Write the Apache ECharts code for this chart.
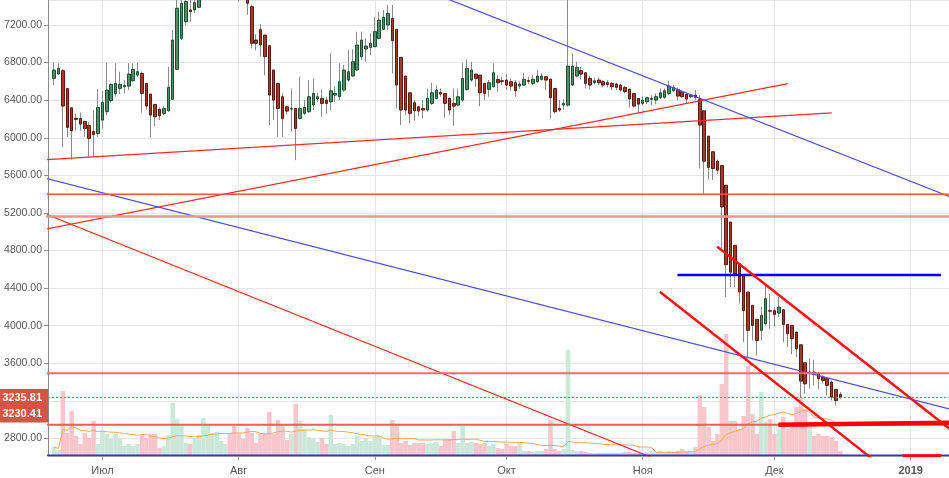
<!DOCTYPE html>
<html><head><meta charset="utf-8">
<script src="https://cdn.jsdelivr.net/npm/echarts@6/dist/echarts.min.js"></script>
<style>html,body{margin:0;padding:0;background:#fff}#c{width:949px;height:478px}</style>
</head><body><div id="c"></div>
<script>
// ---- data (daily candles from 2018-06-20) ----
const firstDay = '2018-06-20';
const open = [6632,6678,6714,6525,6319,6206,6206,6174,6131,6067, 6046,6188,6277,6394,6472,6525,6543,6550,6607,6667, 6685,6579,6465,6355,6302,6259,6287,6408,6728,7058, 7236,7360,7360,7388,7500,7800,8150,8200,8250,8260, 8280,8170,7730,7600,7530,7395,7040,7150,7093,6980, 6721,6579,6437,6330,6305,6312,6206,6259,6277,6348, 6412,6419,6401,6383,6454,6437,6508,6614,6657,6721, 6863,6944,6959,6969,7058,7154,7200,7271,7154,6856, 6657,6479,6373,6330,6312,6295,6366,6419,6483,6472, 6419,6366,6348,6401,6515,6614,6678,6667,6579,6515, 6543,6621,6607,6614,6596,6586,6550,6561,6610,6579, 6596,6621,6650,6625,6525,6312,6348,6348,6561,6657, 6714,6692,6632,6586,6614,6596,6586,6579,6572,6561, 6536,6518,6472,6419,6366,6383,6408,6401,6426,6430, 6472,6500,6515,6490,6462,6437,6454,6408,6287,6017, 5851,5751,5705,5495,5104,4856,4661,4536,4359,4217, 4068,3951,4022,4160,4163,4135,4171,4014,4004,3933, 3798,3606,3496,3507,3496,3454,3436,3400,3322,3269];
const close = [6721,6738,6337,6110,6074,6195,6145,6099,5993,6035, 6323,6376,6508,6568,6579,6568,6557,6678,6728,6703, 6472,6337,6241,6224,6234,6312,6536,7040,7378,7431, 7449,7342,7438,7500,7800,8150,8200,8250,8260,8280, 8170,7730,7600,7530,7431,7005,7005,6987,6863,6454, 6401,6312,6206,6284,6312,6099,6312,6323,6437,6472, 6437,6366,6366,6500,6472,6596,6721,6703,6809,6987, 7040,6976,7005,7129,7253,7282,7324,7033,6561,6295, 6295,6259,6287,6284,6295,6419,6479,6508,6465,6366, 6295,6337,6437,6632,6738,6721,6632,6479,6472,6586, 6692,6586,6600,6561,6550,6500,6571,6621,6600,6621, 6657,6657,6614,6426,6277,6295,6366,6763,6763,6749, 6678,6579,6561,6607,6586,6561,6568,6543,6536,6508, 6490,6412,6337,6358,6401,6426,6419,6437,6479,6500, 6550,6536,6444,6437,6412,6454,6430,6135,5751,5684, 5673,5655,5264,4650,4570,4537,4359,4163,3951,4004, 3844,4110,4288,4155,4121,4199,4014,3915,3862,3755, 3411,3382,3507,3482,3436,3418,3365,3240,3205,3235.81];
const high = [6802,6792,6731,6525,6319,6259,6270,6181,6167,6295, 6515,6500,6799,6579,6792,6703,6614,6792,6792,6799, 6703,6579,6465,6355,6323,6337,6756,7147,7480,7500, 7480,7466,7480,7560,7900,8480,8300,8300,8290,8350, 8300,8170,7760,7720,7550,7420,7100,7210,7093,6980, 6721,6579,6472,6340,6525,6320,6650,6401,6614,6625, 6480,6515,6437,6898,6550,6792,6774,6934,6941,7129, 7129,7058,7111,7282,7342,7360,7413,7413,7154,6856, 6657,6479,6401,6330,6401,6525,6586,6561,6525,6472, 6430,6525,6525,6792,6834,6809,6678,6667,6579,6614, 6792,6667,6650,6678,6632,6614,6600,6692,6650,6667, 6721,6685,6650,6625,6525,6401,6410,7700,6898,6809, 6756,6692,6657,6640,6642,6614,6614,6596,6586,6572, 6550,6518,6472,6419,6437,6437,6454,6472,6525,6525, 6607,6561,6536,6500,6472,6470,6508,6454,6287,6017, 5851,5769,5705,5495,5104,4856,4661,4536,4359,4217, 4068,4199,4448,4341,4199,4306,4171,4014,4004,3933, 3798,3606,3649,3638,3507,3471,3436,3418,3329,3294];
const low = [6561,6667,5897,6010,5769,6074,6074,6010,5797,5804, 6010,6099,6241,6376,6437,6465,6472,6508,6596,6642, 6266,6300,6003,6124,6188,6241,6277,6401,6721,7040, 7200,7235,7330,7380,7480,7750,7950,8100,8150,8100, 7870,7650,7450,7480,7307,6951,6930,6863,6667,6135, 6188,6010,6010,6250,6064,5762,6195,6241,6266,6295, 6380,6224,6259,6295,6380,6401,6490,6596,6650,6714, 6827,6809,6880,6962,7047,7147,7147,6685,6312,6135, 6241,6153,6181,6231,6206,6277,6348,6408,6437,6216, 6241,6127,6337,6383,6500,6596,6543,6337,6401,6437, 6536,6490,6560,6508,6501,6437,6520,6550,6570,6561, 6586,6607,6507,6206,6259,6277,6300,6330,6550,6643, 6621,6525,6515,6565,6561,6536,6536,6508,6508,6490, 6472,6323,6323,6259,6348,6358,6348,6358,6412,6416, 6454,6490,6401,6430,6366,6420,6401,5673,5406,5556, 5549,5613,4803,4306,4412,4412,4235,3826,3649,3844, 3684,3844,4004,3968,3986,4093,3826,3773,3695,3667, 3240,3276,3329,3365,3329,3382,3258,3205,3152,3223];
const volume = [9,6,65,23,45,20,12,23,18,35, 12,26,22,17,22,17,10,12,10,12, 20,18,22,22,8,10,21,53,37,30, 13,12,18,21,38,32,23,24,15,12, 22,30,23,17,28,23,13,23,22,44, 22,36,32,16,22,52,35,27,19,17, 14,18,12,41,12,13,12,10,12,20, 15,17,15,19,20,11,11,36,32,13, 15,11,13,13,13,12,13,14,10,17, 17,25,13,30,13,14,13,12,13,10, 12,8,7,12,10,10,13,5,5,4, 5,5,7,36,7,5,7,106,6,5, 5,4,3,3,3,3,3,3,3,3, 4,4,3,3,3,4,5,4,5,4, 5,4,5,7,5,5,9,61,49,29, 15,22,72,122,35,35,27,40,90,42, 22,64,34,37,22,27,39,27,29,49, 59,47,30,20,22,20,20,19,15,5];
const volumeMaPeriod = 20;
const lastPrice = 3235.81;
const secondPrice = 3230.41;
const monthNames = ['Янв','Фев','Мар','Апр','Май','Июн','Июл','Авг','Сен','Окт','Ноя','Дек'];
const yTickValues = [2800,3200,3600,4000,4400,4800,5200,5600,6000,6400,6800,7200];

// drawings: [date, price] endpoints
const redSupportA   = [['2018-06-18T00:00Z', 5767], ['2018-12-14T00:00Z', 6264]];
const redRiseB      = [['2018-06-18T00:00Z', 5028], ['2018-12-04T00:00Z', 6577]];
const blueUpperC    = [['2018-09-08T00:00Z', 7653], ['2019-01-16T00:00Z', 5261]];
const blueLowerD    = [['2018-06-18T00:00Z', 5570], ['2019-01-16T00:00Z', 3040]];
const redFallE      = [['2018-06-18T00:00Z', 5190], ['2018-11-11T00:00Z', 2449]];
const redLevelF     = [['2018-06-18T00:00Z', 5398], ['2019-01-16T00:00Z', 5398]];
const pinkLevelG    = [['2018-06-18T00:00Z', 5162], ['2019-01-16T00:00Z', 5162]];
const blueLevelH    = [['2018-11-08T21:36Z', 4540], ['2019-01-07T22:00Z', 4540]];
const redChannelTop = [['2018-11-17T23:00Z', 4841], ['2019-01-16T00:00Z', 2678]];
const redChannelBot = [['2018-11-04T21:36Z', 4362], ['2018-12-27T00:00Z', 2446]];
const redThickK     = [['2018-12-01T21:30Z', 2947], ['2019-01-16T00:00Z', 2972]];
const redLevelL     = [['2018-06-18T00:00Z', 3494], ['2019-01-16T00:00Z', 3494]];
const redLevelM     = [['2018-06-18T00:00Z', 2947], ['2019-01-16T00:00Z', 2947]];
const blueBottomN   = [['2018-06-18T00:00Z', 2621], ['2019-01-16T00:00Z', 2621]];
const redBottomSeg  = [['2018-12-30T05:00Z', 2617], ['2019-01-07T22:00Z', 2617]];

// ---- build ----
const DAY = 86400000;
const t0 = Date.parse(firstDay + 'T00:00:00Z');
const times = open.map((_, i) => t0 + i * DAY);
const xMin = Date.UTC(2018, 5, 19, 3);
const xMax = xMin + 204.09 * DAY;
const yMin = 2614, yMax = 7466;

const wickData = times.map((t, i) => [t, open[i], close[i], low[i], high[i]]);
const bodyData = times.map((t, i) => [t, open[i], close[i], Math.min(open[i], close[i]), Math.max(open[i], close[i])]);
const VOL_UP = '#cbe8d9', VOL_DOWN = '#f9c6cc';
const volData = times.map((t, i) => ({ value: [t, volume[i]], itemStyle: { color: close[i] >= open[i] ? VOL_UP : VOL_DOWN } }));
const maData = times.map((t, i) => {
  const s = Math.max(0, i - volumeMaPeriod + 1);
  let sum = 0; for (let k = s; k <= i; k++) sum += volume[k];
  return [t, sum / (i - s + 1)];
});

function seg(points, color, width, z) {
  return {
    type: 'line', data: points.map(p => [Date.parse(p[0]), p[1]]),
    symbol: 'none', silent: true, clip: true, animation: false, z: z || 5,
    lineStyle: { color: color, width: width }
  };
}
const FONT = 'Liberation Sans, Arial, sans-serif';
const tag = {
  show: true, position: 'start', distance: 0,
  color: '#fff', backgroundColor: '#d65446', fontFamily: FONT,
  fontSize: 11, fontWeight: 'bold', padding: [3, 6, 3, 4], lineHeight: 11
};

const chart = echarts.init(document.getElementById('c'));
chart.setOption({
  animation: false,
  useUTC: true,
  backgroundColor: '#fff',
  grid: { left: 48, right: 0, top: 0, bottom: 22, containLabel: false, outerBoundsMode: 'none' },
  xAxis: {
    type: 'time', min: xMin, max: xMax,
    minInterval: 28 * DAY, maxInterval: 31 * DAY, splitNumber: 7,
    axisLine: { show: true, lineStyle: { color: '#9a9a9a', width: 1 } },
    axisTick: { show: true, length: 4, lineStyle: { color: '#9a9a9a' } },
    minorTick: { show: false },
    splitLine: { show: true, lineStyle: { color: '#e6e6e6', width: 1 } },
    axisLabel: {
      show: true, margin: 9, color: '#555', fontSize: 11, fontFamily: FONT,
      showMinLabel: false, showMaxLabel: false, hideOverlap: false,
      formatter: function (v) {
        const d = new Date(v);
        const m = d.getUTCMonth();
        return m === 0 ? '{y|' + d.getUTCFullYear() + '}' : monthNames[m];
      },
      rich: { y: { fontWeight: 'bold', color: '#555', fontSize: 11, fontFamily: FONT } }
    }
  },
  yAxis: [{
    type: 'value', min: yMin, max: yMax, minInterval: 400, maxInterval: 400, splitNumber: 12,
    position: 'left', scale: true,
    axisLine: { show: true, lineStyle: { color: '#8a8a8a', width: 1 } },
    axisTick: { show: true, length: 4, lineStyle: { color: '#8a8a8a' } },
    splitLine: { show: true, lineStyle: { color: '#e6e6e6', width: 1 } },
    axisLabel: {
      show: true, margin: 6, color: '#555', fontSize: 10.5, fontFamily: FONT,
      showMinLabel: false, showMaxLabel: false,
      formatter: function (v) {
        return (yTickValues.indexOf(v) >= 0 && v !== 3200) ? v.toFixed(2) : '';
      }
    }
  }, {
    type: 'value', min: 0, max: 456, show: false, splitLine: { show: false }
  }],
  series: [
    { type: 'bar', yAxisIndex: 1, data: volData, barWidth: 4.5, silent: true, z: 1, animation: false },
    { type: 'line', yAxisIndex: 1, data: maData, symbol: 'none', silent: true, z: 2,
      lineStyle: { color: '#f8a865', width: 1 } },
    { type: 'candlestick', data: wickData, barWidth: 1, silent: true, z: 3,
      itemStyle: { color: '#8a8a8a', color0: '#8a8a8a', borderColor: '#8a8a8a', borderColor0: '#8a8a8a', borderWidth: 1 } },
    { type: 'candlestick', data: bodyData, barWidth: 3, silent: true, z: 4,
      itemStyle: { color: '#4d9068', color0: '#a53a2b', borderColor: '#1f4d33', borderColor0: '#5a1a12', borderWidth: 1 },
      markLine: {
        symbol: ['none', 'none'], silent: true, animation: false, precision: 2,
        labelLayout: { hideOverlap: false },
        data: [
          { yAxis: lastPrice, lineStyle: { color: '#e06a62', type: [2, 2], width: 1 },
            label: Object.assign({}, tag, { formatter: lastPrice.toFixed(2) }) }
        ]
      }
    },
    { type: 'line', data: [], silent: true, z: 6,
      markLine: {
        symbol: ['none', 'none'], silent: true, animation: false, precision: 2,
        data: [
          { yAxis: secondPrice, lineStyle: { color: 'rgba(0,0,0,0)', width: 1 },
            label: Object.assign({}, tag, { formatter: secondPrice.toFixed(2), offset: [0, 16] }) }
        ]
      }
    },
    seg(redSupportA, '#ff2b2b', 1.2),
    seg(redRiseB, '#ff2b2b', 1.2),
    seg(blueUpperC, '#4c4cff', 1.2),
    seg(blueLowerD, '#4c4cff', 1.2),
    seg(redFallE, '#ff2b2b', 1.2),
    seg(redLevelF, '#ff4f4f', 1.5),
    seg(pinkLevelG, '#ff9090', 2.5),
    seg(redLevelL, '#ff6a6a', 2),
    seg(redLevelM, '#ff5a5a', 2),
    seg(blueBottomN, '#2f2fff', 1.5),
    seg(blueLevelH, '#0000f0', 2.5),
    seg(redChannelTop, '#ff1010', 2.4),
    seg(redChannelBot, '#ff1010', 2.4),
    seg(redThickK, '#ff0000', 4.5),
    seg(redBottomSeg, '#ff0000', 3)
  ]
});
</script>
</body></html>
